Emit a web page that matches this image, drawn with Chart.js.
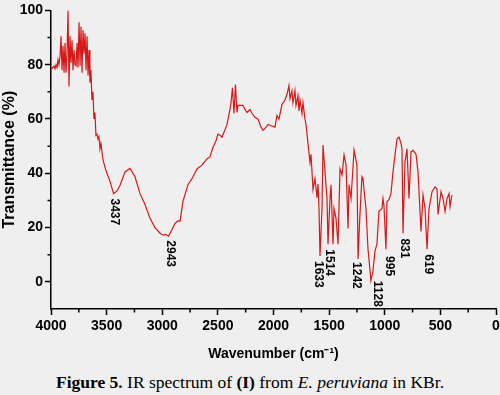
<!DOCTYPE html>
<html><head><meta charset="utf-8">
<script src="https://cdn.jsdelivr.net/npm/chart.js@4/dist/chart.umd.min.js"></script>
<style>
html,body{margin:0;padding:0;background:#efefef;overflow:hidden;width:500px;height:395px;}
#wrap{position:absolute;left:0;top:0;width:520px;height:365px;}
#cap{position:absolute;left:0;top:373px;width:500px;text-align:center;font-family:"Liberation Serif","Times New Roman",serif;font-size:17.5px;line-height:18px;color:#000;white-space:nowrap;}
</style></head><body>
<div id="wrap"><canvas id="c" width="520" height="365"></canvas></div>
<div id="cap"><b>Figure 5.</b> IR spectrum of <b>(I)</b> from <i>E. peruviana</i> in KBr.</div>
<script>
const wavenumber = [4000,3991,3973,3964,3955,3946,3937,3928,3919,3910,3901,3892,3883,3874,3865,3856,3847,3838,3829,3820,3811,3802,3793,3784,3775,3766,3757,3748,3739,3730,3721,3712,3703,3694,3685,3676,3667,3658,3650,3641,3632,3623,3614,3605,3596,3587,3578,3569,3560,3551,3533,3506,3488,3470,3452,3437,3407,3380,3335,3290,3245,3200,3155,3110,3065,3020,2993,2970,2943,2912,2885,2858,2840,2814,2769,2733,2688,2643,2598,2571,2544,2517,2499,2481,2463,2436,2418,2391,2382,2369,2355,2342,2328,2319,2274,2256,2238,2211,2193,2166,2139,2112,2094,2067,2049,2022,1987,1969,1951,1924,1897,1879,1861,1852,1834,1825,1807,1798,1780,1771,1762,1744,1735,1717,1708,1690,1672,1663,1645,1627,1609,1600,1591,1582,1564,1555,1537,1519,1510,1492,1483,1465,1456,1438,1420,1402,1384,1366,1348,1330,1321,1303,1276,1250,1240,1223,1205,1196,1169,1151,1124,1106,1088,1070,1052,1025,1016,1007,989,980,962,944,926,908,890,872,854,845,836,818,800,782,764,746,719,701,674,656,638,620,602,575,548,530,521,494,476,458,440,422,413,396];
const transmittance = [79,78.5,79.5,78.5,80,79,81.8,80,83,90.5,78,87,77,88,77,84,100,72,90.5,80.7,89,78,85.4,80,79.6,88,79,95.6,79.6,94,77,92.7,84,91.6,78,90.5,76,85.4,73.4,78,67,70,60,62.4,54,54.4,52.6,53.5,49,51,45,41,39,37,34.5,32.5,33.5,35.5,40.5,41.8,38.7,32.5,28.5,23.4,20,17.9,17.2,17.5,16.8,19.3,21.5,22.5,22.3,29.6,35.8,38,41.6,43,45.3,46,49.6,52,54.4,54,53.3,56,58,63.5,66,71.5,62,72.7,62.4,65,65,63.5,62.4,63.5,62,60.6,59.9,57,55.8,57,58,57.5,57,61.3,60,65.3,67,69,72.3,67.5,70.4,66,70.4,65,68.6,63,67,62,66,59.9,58,51,44,47,34,38,31,36,27,9.5,27,50.4,40.5,30.7,13.9,30.7,35.8,13.9,27,23.4,13.9,41.6,39.4,46.7,43,19.7,35.8,30.7,48.5,43,8.4,24.8,38.7,38,27,12.4,0.4,4,11.3,14,26,27,30.7,28,12,29.6,30.3,32.5,40.5,46.7,52.6,53.3,51,49,17.9,44,49,30.7,47.8,48.5,47,40.5,18.6,32,27,12,27,33.2,35,34.3,24.8,33.2,30.7,26,30.7,32.5,27.7,32];
const xTicks = [4000,3500,3000,2500,2000,1500,1000,500,0];
const xMinor = [3750,3250,2750,2250,1750,1250,750,250];
const yTicks = [0,20,40,60,80,100];
const yMinor = [90,70,50,30,10];
const peakText = ['3437','2943','1633','1514','1242','1128','995','831','619'];
const peakWn = [3434,2930,1600,1501,1258,1070,962,827,611];
const peakT = [30.7,15.3,7.7,12,7.3,0.4,9.5,16,10.2];

const points = wavenumber.map((w,i)=>({x:w,y:transmittance[i]}));
const tickFont = {family:'"Liberation Sans", Arial, sans-serif', size:14, weight:'bold'};
const yTitleFont = {family:'"Liberation Sans", Arial, sans-serif', size:16, weight:'bold'};

const extras = {
  id:'extras',
  afterDraw(chart){
    const {ctx, scales:{x,y}} = chart;
    ctx.save();
    ctx.strokeStyle='#000'; ctx.lineWidth=1.5;
    ctx.beginPath();
    for (const v of xMinor){ const px=x.getPixelForValue(v); ctx.moveTo(px,y.bottom); ctx.lineTo(px,y.bottom+3.5); }
    for (const v of yMinor){ const py=y.getPixelForValue(v); ctx.moveTo(x.left,py); ctx.lineTo(x.left-3.5,py); }
    ctx.stroke();
    ctx.font='bold 12px "Liberation Sans", Arial, sans-serif';
    ctx.fillStyle='#000'; ctx.textAlign='left'; ctx.textBaseline='middle';
    peakText.forEach((t,i)=>{
      const px=x.getPixelForValue(peakWn[i]); const py=y.getPixelForValue(peakT[i]);
      ctx.save(); ctx.translate(px,py); ctx.rotate(Math.PI/2); ctx.fillText(t,0,0); ctx.restore();
    });
    ctx.restore();
  }
};

new Chart(document.getElementById('c'), {
  type:'line',
  data:{datasets:[{data:points, borderColor:'#d81818', borderWidth:1.2, pointRadius:0, tension:0, fill:false}]},
  options:{
    responsive:false, animation:false,
    layout:{padding:{top:7,right:24,left:0,bottom:0}},
    plugins:{legend:{display:false}, tooltip:{enabled:false}},
    scales:{
      x:{type:'linear', reverse:true, min:0, max:4000,
        afterBuildTicks:s=>{s.ticks=xTicks.map(v=>({value:v}));},
        afterFit:s=>{s.height=56;},
        ticks:{font:tickFont, color:'#000', padding:3, maxRotation:0, autoSkip:false, callback:v=>String(v)},
        grid:{drawOnChartArea:false, drawTicks:true, tickLength:6, tickColor:'#000', tickWidth:1.5},
        border:{display:true, color:'#000', width:1.5},
        title:{display:true, text:'Wavenumber (cm\u207B\u00B9)', font:tickFont, color:'#000', padding:{top:0,bottom:2}}
      },
      y:{type:'linear', min:-10, max:100,
        afterBuildTicks:s=>{s.ticks=yTicks.map(v=>({value:v}));},
        afterFit:s=>{s.width=51;},
        ticks:{font:tickFont, color:'#000', padding:2, callback:v=>String(v)},
        grid:{drawOnChartArea:false, drawTicks:true, tickLength:6, tickColor:'#000', tickWidth:1.5},
        border:{display:true, color:'#000', width:1.5},
        title:{display:true, text:'Transmittance (%)', font:yTitleFont, color:'#000', padding:{top:0,bottom:0}}
      }
    }
  },
  plugins:[extras]
});
</script>
</body></html>
